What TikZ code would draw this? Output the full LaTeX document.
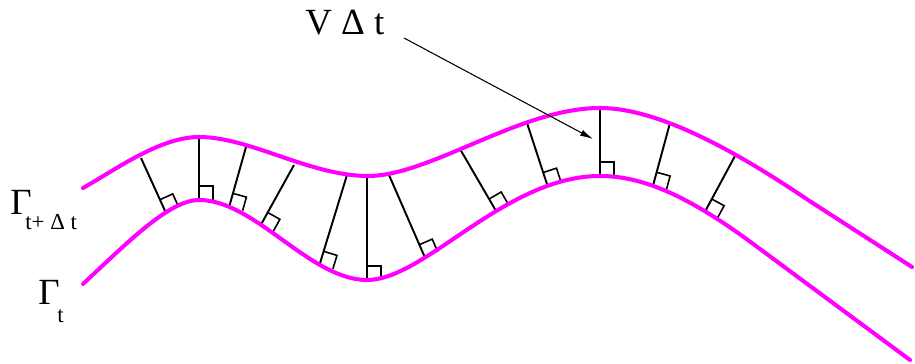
\documentclass[tikz,border=0pt]{standalone}
\usepackage{fontspec}
\setmainfont{Liberation Serif}
\usetikzlibrary{arrows.meta,calc}
\definecolor{frontmagenta}{RGB}{255,0,255}

\begin{document}
\begin{tikzpicture}[x=0.02cm,y=0.02cm,
    front/.style={frontmagenta,line width=2.3pt,line cap=round},
    normal/.style={line width=1.1pt},
    rightangle/.style={line width=0.9pt},
    label/.style={inner sep=0pt,anchor=base west,font=\fontsize{21}{24}\selectfont}]
  \useasboundingbox (0,0) rectangle (915,364);
  % front at t, with the foot points of the normals on it
  \path (83,80) .. controls (130,124) and (170,164) .. (199,164)
      coordinate[pos=0.66] (l1) coordinate (l2)
    .. controls (255,164) and (310,84) .. (367,84)
      coordinate[pos=0.18] (l3) coordinate[pos=0.37] (l4)
      coordinate[pos=0.72] (l5) coordinate (l6)
    .. controls (425,84) and (505,188) .. (600,188)
      coordinate[pos=0.3] (l7) coordinate[pos=0.61] (l8)
      coordinate[pos=0.81] (l9) coordinate (l10)
    .. controls (650,188) and (700,160) .. (760,115)
      coordinate[pos=0.35] (l11) coordinate[pos=0.68] (l12)
    -- (910,4) coordinate (lend);
  % normals from the front at t to the front at t+dt
  \foreach \n/\ux/\uy in {1/141/206, 2/199/227, 3/246/217, 4/294/199,
      5/347/189, 6/367/188, 7/389/189, 8/460/215, 9/527/241, 10/600/256,
      11/670/241, 12/735/208}
  {
    \coordinate (up) at (\ux,\uy);
    \coordinate (sa) at ($(l\n)!0.28cm!(up)$);
    \coordinate (sb) at ($(l\n)!0.28cm!-90:(up)$);
    \coordinate (sc) at ($(sa)!0.28cm!-90:(up)$);
    \draw[normal] (l\n) -- (up);
    \draw[rightangle] (sa) -- (sc) -- (sb);
  }
  % the two fronts
  \draw[front] (83,80) .. controls (130,124) and (170,164) .. (l2)
    .. controls (255,164) and (310,84) .. (l6)
    .. controls (425,84) and (505,188) .. (l10)
    .. controls (650,188) and (700,160) .. (760,115) -- (lend);
  \draw[front] (83,176) .. controls (115,194) and (160,227) .. (199,227)
    .. controls (250,227) and (310,188) .. (368,188)
    .. controls (430,188) and (520,256) .. (600,256)
    .. controls (660,256) and (740,210) .. (808,164) -- (912,97);
  % labels
  \node[label] (vdt) at (305,329) {V Δ t};
  \node[label] (gup) at (10,149)
    {Γ\kern-3.6pt\raisebox{-8.5pt}{\fontsize{13}{13}\selectfont t+ Δ t}};
  \node[label] (glow) at (38,59)
    {Γ\kern-1.3pt\raisebox{-10pt}{\fontsize{13}{13}\selectfont t}};
  \coordinate (vtail) at (404,326);
  \coordinate (vtip) at (593,225);
  \draw[line width=0.6pt,-{Latex[length=0.26cm,width=0.13cm]}] (vtail) -- (vtip);
\end{tikzpicture}
\end{document}
